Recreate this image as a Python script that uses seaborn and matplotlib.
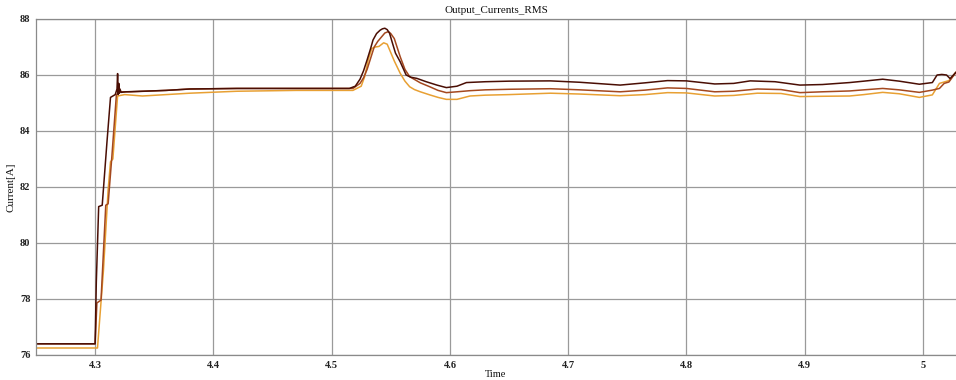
import numpy as np
import pandas as pd
import seaborn as sns
import matplotlib
matplotlib.use("Agg")
import matplotlib.pyplot as plt

# Phase A (dark brown)
time_a = [4.250, 4.3000, 4.3010, 4.3030, 4.3060, 4.3100, 4.3130, 4.3170, 4.3185,
          4.3190, 4.3195, 4.3200, 4.3205, 4.3210, 4.3220, 4.3260, 4.340, 4.360,
          4.380, 4.420, 4.470, 4.500, 4.515, 4.520, 4.524, 4.527, 4.530, 4.533,
          4.535, 4.538, 4.541, 4.543, 4.545, 4.547, 4.549, 4.551, 4.554, 4.558,
          4.563, 4.567, 4.572, 4.580, 4.589, 4.597, 4.606, 4.614, 4.630, 4.650,
          4.685, 4.710, 4.744, 4.765, 4.784, 4.800, 4.824, 4.840, 4.854, 4.875,
          4.896, 4.915, 4.938, 4.950, 4.966, 4.980, 4.997, 5.008, 5.012, 5.016,
          5.020, 5.023, 5.028]
current_a = [76.40, 76.40, 78.60, 81.30, 81.35, 83.60, 85.20, 85.30, 85.50,
             86.05, 85.30, 85.70, 85.35, 85.50, 85.38, 85.40, 85.42, 85.45,
             85.50, 85.52, 85.52, 85.52, 85.52, 85.60, 85.85, 86.15, 86.54, 86.95,
             87.25, 87.48, 87.60, 87.65, 87.67, 87.62, 87.49, 87.20, 86.78, 86.47,
             86.00, 85.92, 85.88, 85.76, 85.64, 85.55, 85.60, 85.73, 85.76, 85.78,
             85.79, 85.74, 85.64, 85.72, 85.80, 85.79, 85.68, 85.70, 85.79, 85.76,
             85.64, 85.66, 85.73, 85.78, 85.85, 85.78, 85.67, 85.73, 86.00, 86.02,
             86.00, 85.87, 86.10]

# Phase B (red-brown)
time_b = [4.250, 4.3000, 4.3015, 4.3050, 4.3090, 4.3110, 4.3140, 4.3180, 4.3210,
          4.330, 4.360, 4.380, 4.420, 4.470, 4.500, 4.518, 4.524, 4.527, 4.530,
          4.533, 4.536, 4.539, 4.542, 4.545, 4.548, 4.550, 4.553, 4.558, 4.562,
          4.566, 4.575, 4.583, 4.590, 4.597, 4.606, 4.617, 4.630, 4.650, 4.685,
          4.710, 4.744, 4.765, 4.784, 4.800, 4.824, 4.840, 4.860, 4.880, 4.896,
          4.915, 4.938, 4.950, 4.966, 4.980, 4.997, 5.008, 5.014, 5.018, 5.022,
          5.028]
current_b = [76.40, 76.40, 77.86, 77.96, 81.35, 81.40, 83.00, 85.30, 85.40,
             85.40, 85.45, 85.50, 85.52, 85.52, 85.52, 85.52, 85.70, 85.90, 86.20,
             86.60, 87.00, 87.20, 87.35, 87.50, 87.55, 87.48, 87.30, 86.65, 86.20,
             85.94, 85.72, 85.58, 85.45, 85.37, 85.40, 85.44, 85.47, 85.49, 85.51,
             85.47, 85.40, 85.46, 85.54, 85.52, 85.40, 85.42, 85.50, 85.48, 85.37,
             85.40, 85.43, 85.47, 85.52, 85.47, 85.38, 85.46, 85.52, 85.70, 85.75,
             86.10]

# Phase C (orange)
time_c = [4.250, 4.3000, 4.3020, 4.3070, 4.3110, 4.3130, 4.3150, 4.3190, 4.3250,
          4.340, 4.380, 4.420, 4.470, 4.500, 4.518, 4.525, 4.528, 4.531, 4.534,
          4.537, 4.540, 4.544, 4.547, 4.549, 4.553, 4.558, 4.562, 4.566, 4.570,
          4.575, 4.583, 4.590, 4.597, 4.606, 4.617, 4.630, 4.650, 4.685, 4.710,
          4.744, 4.765, 4.784, 4.800, 4.824, 4.840, 4.860, 4.880, 4.896, 4.915,
          4.938, 4.950, 4.966, 4.980, 4.997, 5.008, 5.014, 5.018, 5.022, 5.028]
current_c = [76.25, 76.25, 76.25, 79.00, 81.90, 82.90, 83.00, 85.25, 85.30,
             85.25, 85.35, 85.42, 85.45, 85.45, 85.45, 85.60, 85.95, 86.55, 86.95,
             87.00, 87.02, 87.15, 87.10, 86.90, 86.50, 86.06, 85.78, 85.58, 85.48,
             85.40, 85.29, 85.20, 85.13, 85.13, 85.25, 85.28, 85.30, 85.35, 85.32,
             85.26, 85.30, 85.37, 85.36, 85.25, 85.27, 85.35, 85.34, 85.23, 85.24,
             85.25, 85.30, 85.38, 85.33, 85.20, 85.29, 85.70, 85.75, 85.80, 86.10]

x_ticks = [4.3, 4.4, 4.5, 4.6, 4.7, 4.8, 4.9, 5.0]
x_tick_labels = ["4.3", "4.4", "4.5", "4.6", "4.7", "4.8", "4.9", "5"]
y_ticks = [76, 78, 80, 82, 84, 86, 88]

sns.set_theme(style="white")
plt.rcParams["font.family"] = ["Liberation Serif", "DejaVu Serif"]

fig = plt.figure(figsize=(9.56, 3.80), dpi=100)
ax = fig.add_axes([36 / 956, 1 - 355 / 380, 1 - 36 / 956, (355 - 19) / 380])

series = [
    (time_a, current_a, "#4a0e04"),
    (time_b, current_b, "#a4481f"),
    (time_c, current_c, "#e8a033"),
]
for t, v, col in series[::-1]:
    sns.lineplot(x=t, y=v, ax=ax, color=col, linewidth=1.1,
                 sort=False, estimator=None)

ax.set_xlim(4.25, 5.028)
ax.set_ylim(76, 88)
ax.set_xticks(x_ticks)
ax.set_xticklabels(x_tick_labels)
ax.set_yticks(y_ticks)
ax.grid(True, color="#9a9a9a", linewidth=0.9)
ax.set_axisbelow(True)

ax.spines["right"].set_visible(False)
for side in ["left", "bottom", "top"]:
    ax.spines[side].set_color("#8a8a8a")
    ax.spines[side].set_linewidth(0.9)

ax.tick_params(axis="both", length=0, labelsize=7.5, colors="#222222", pad=4)
for lbl in ax.get_xticklabels() + ax.get_yticklabels():
    lbl.set_fontweight("bold")

ax.set_title("Output_Currents_RMS", fontsize=8, pad=4, color="#111111")
ax.set_ylabel("Current[A]", fontsize=8, labelpad=3, color="#111111")
ax.set_xlabel("Time", fontsize=7.5, labelpad=0, color="#111111")

fig.savefig("out.png", dpi=100, facecolor="white")
